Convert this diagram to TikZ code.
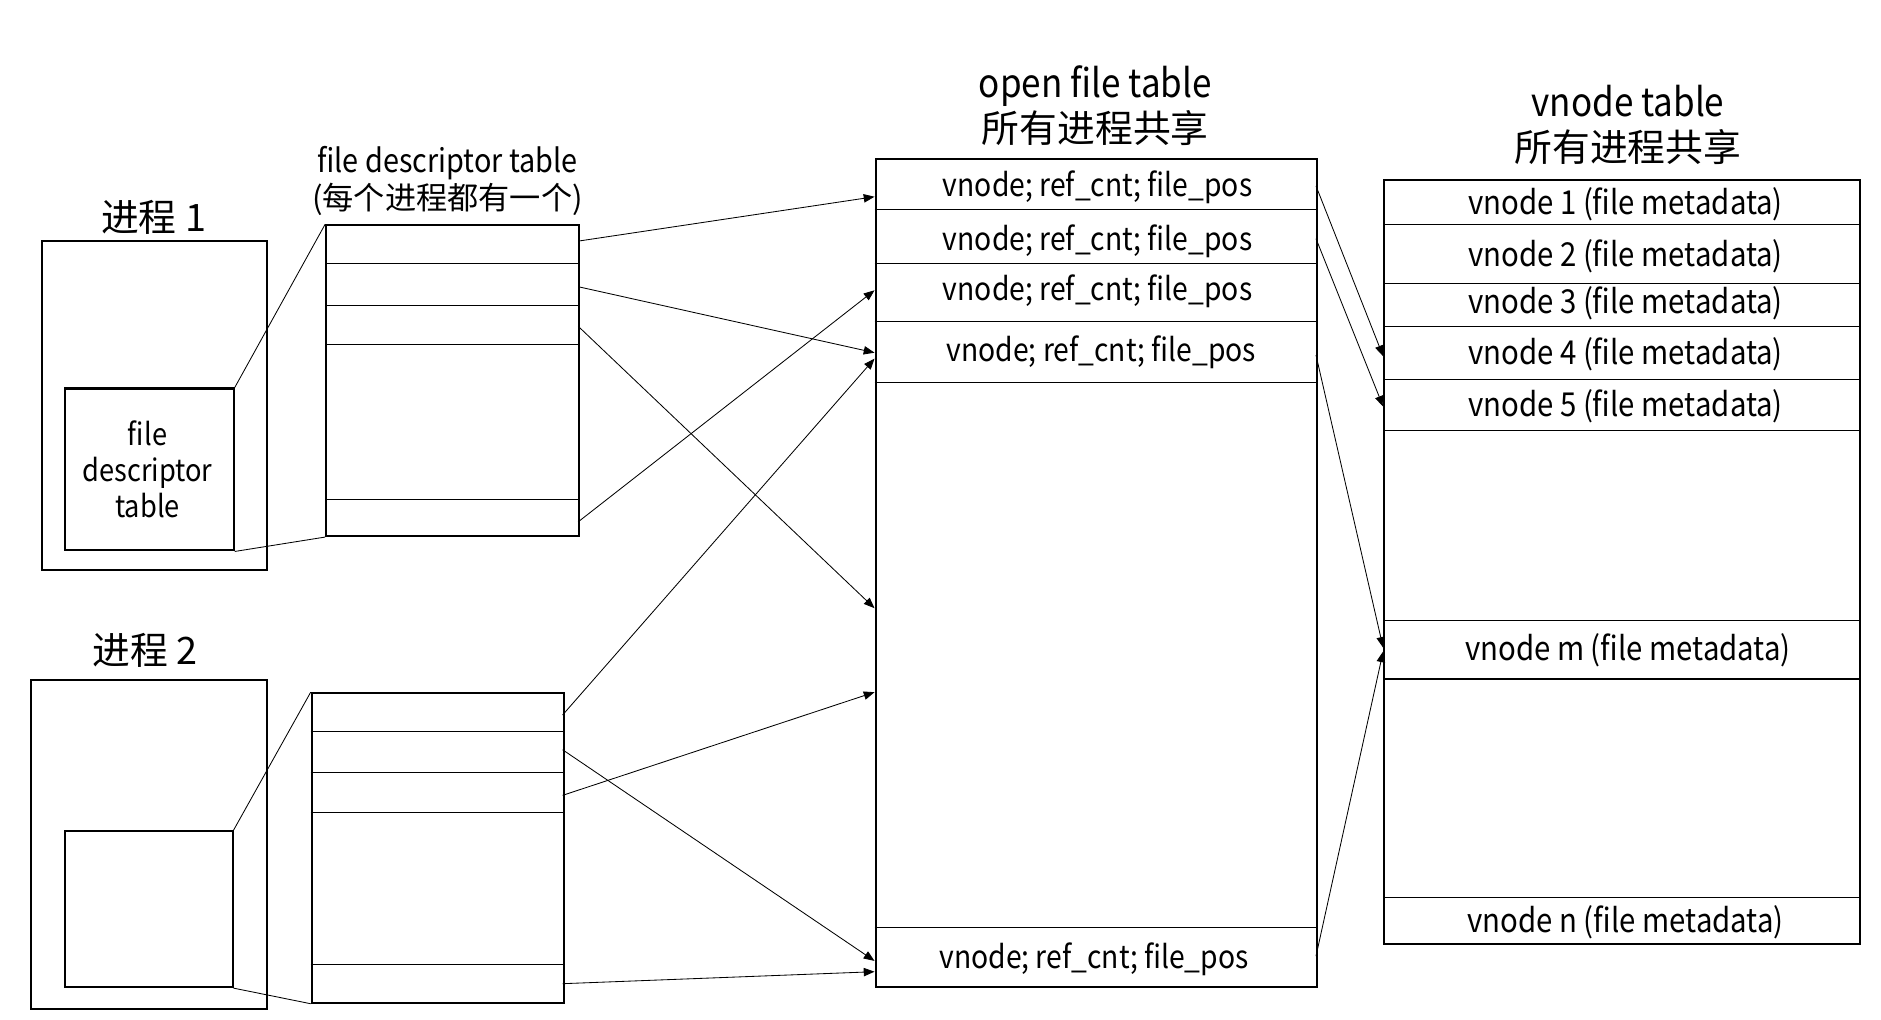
\documentclass[tikz,border=0pt]{standalone}
\usepackage{fontspec}
\setmainfont{Noto Sans CJK SC}
% condensed cut of the same face for the Latin labels
\newfontfamily\narrowlatin{Noto Sans CJK SC}[FakeStretch=0.89]
\usetikzlibrary{arrows.meta}
\begin{document}
\begin{tikzpicture}[x=1pt,y=-1pt,
  frame/.style={draw, line width=1.7pt, rectangle, inner sep=0pt, anchor=north west},
  rowline/.style={line width=0.9pt},
  link/.style={line width=0.7pt},
  ptr/.style={line width=0.7pt, -{Triangle[length=9pt,width=7pt]}},
  title/.style={font=\fontsize{31.5}{37}\selectfont, align=center},
  cell/.style={font=\narrowlatin\fontsize{26.5}{30}\selectfont, align=center},
  vcell/.style={font=\narrowlatin\fontsize{27.5}{30}\selectfont, align=center},
]
\useasboundingbox (0,0) rectangle (1568,850);

% ---------- process 1 ----------
\node[title] (pA) at (128,181) {进程 1};
\node[frame, minimum width=188pt, minimum height=274pt] (procA) at (34,200) {};
\node[frame, minimum width=141pt, minimum height=135pt] (innA) at (53,323) {};
\node[cell, font=\narrowlatin\fontsize{25.5}{30}\selectfont] (innAtxt) at (123,391) {file\\descriptor\\table};

% ---------- process 2 ----------
\node[title] (pB) at (121,542) {进程 2};
\node[frame, minimum width=197pt, minimum height=274pt] (procB) at (25,566) {};
\node[frame, minimum width=140pt, minimum height=130pt] (innB) at (53,692) {};

% ---------- file descriptor tables ----------
\node[align=center, font=\fontsize{26}{31}\selectfont] (fdAt) at (373,151)
  {{\narrowlatin\fontsize{27}{31}\selectfont file descriptor table}\\(每个进程都有一个)};
\node[frame, minimum width=211pt, minimum height=259pt] (fdA) at (271,187) {};
\foreach \y in {220,255,287,416} \draw[rowline] (271,\y) -- (482,\y);

\node[frame, minimum width=210pt, minimum height=258pt] (fdB) at (259,577) {};
\foreach \y in {610,644,677,804} \draw[rowline] (259,\y) -- (469,\y);

% zoom lines from the small tables to the enlarged ones
\draw[link] (innA.north east) -- (fdA.north west);
\draw[link] (innA.south east) -- (fdA.south west);
\draw[link] (innB.north east) -- (fdB.north west);
\draw[link] (innB.south east) -- (fdB.south west);

% ---------- open file table ----------
\node[title] (oft) at (913,88) {{\narrowlatin\fontsize{32.8}{37}\selectfont open file table}\\所有进程共享};
\node[frame, minimum width=368pt, minimum height=690pt] (of) at (729,132) {};
\foreach \y in {175,220,268,319,773} \draw[rowline] (729,\y) -- (1097,\y);
\node[cell] (of1) at (915,156) {vnode; ref\_cnt; file\_pos};
\node[cell] (of2) at (915,201) {vnode; ref\_cnt; file\_pos};
\node[cell] (of3) at (915,243) {vnode; ref\_cnt; file\_pos};
\node[cell] (of4) at (918,294) {vnode; ref\_cnt; file\_pos};
\node[cell] (of5) at (912,800) {vnode; ref\_cnt; file\_pos};

% ---------- vnode table ----------
\node[title] (vnt) at (1357,104) {{\narrowlatin\fontsize{32.8}{37}\selectfont vnode table}\\所有进程共享};
\node[frame, minimum width=397pt, minimum height=637pt] (vn) at (1153,149) {};
\foreach \y in {187,236,272,316,359,517,566,748} \draw[rowline] (1153,\y) -- (1550,\y);
\node[vcell] (vn1) at (1355,170) {vnode 1 (file metadata)};
\node[vcell] (vn2) at (1355,214) {vnode 2 (file metadata)};
\node[vcell] (vn3) at (1355,253) {vnode 3 (file metadata)};
\node[vcell] (vn4) at (1355,295) {vnode 4 (file metadata)};
\node[vcell] (vn5) at (1355,339) {vnode 5 (file metadata)};
\node[vcell] (vnm) at (1357,542) {vnode m (file metadata)};
\node[vcell] (vnn) at (1355,769) {vnode n (file metadata)};

% ---------- pointer end points ----------
\coordinate (a1) at (482,201);  \coordinate (a2) at (482,239);
\coordinate (a3) at (482,272);  \coordinate (a4) at (482,435);
\coordinate (b1) at (469,596);  \coordinate (b2) at (469,625);
\coordinate (b3) at (469,663);  \coordinate (b4) at (469,820);
\coordinate (oin1) at (729,164); \coordinate (oin3) at (729,242);
\coordinate (oin4a) at (729,294); \coordinate (oin4b) at (729,299);
\coordinate (oinx) at (729,507); \coordinate (oiny) at (729,577);
\coordinate (oin5a) at (729,801); \coordinate (oin5b) at (729,810);
\coordinate (o1) at (1097,155); \coordinate (o2) at (1097,199);
\coordinate (o4) at (1097,296); \coordinate (o5) at (1097,797);
\coordinate (v4) at (1153,297); \coordinate (v5) at (1153,339);
\coordinate (vma) at (1153,540); \coordinate (vmb) at (1153,543);

% descriptors -> open file entries
\draw[ptr] (a1) -- (oin1);
\draw[ptr] (a2) -- (oin4a);
\draw[ptr] (a3) -- (oinx);
\draw[ptr] (a4) -- (oin3);
\draw[ptr] (b1) -- (oin4b);
\draw[ptr] (b2) -- (oin5a);
\draw[ptr] (b3) -- (oiny);
\draw[ptr] (b4) -- (oin5b);

% open file entries -> vnodes
\draw[ptr] (o1) -- (v4);
\draw[ptr] (o2) -- (v5);
\draw[ptr] (o4) -- (vma);
\draw[ptr] (o5) -- (vmb);
\end{tikzpicture}
\end{document}
